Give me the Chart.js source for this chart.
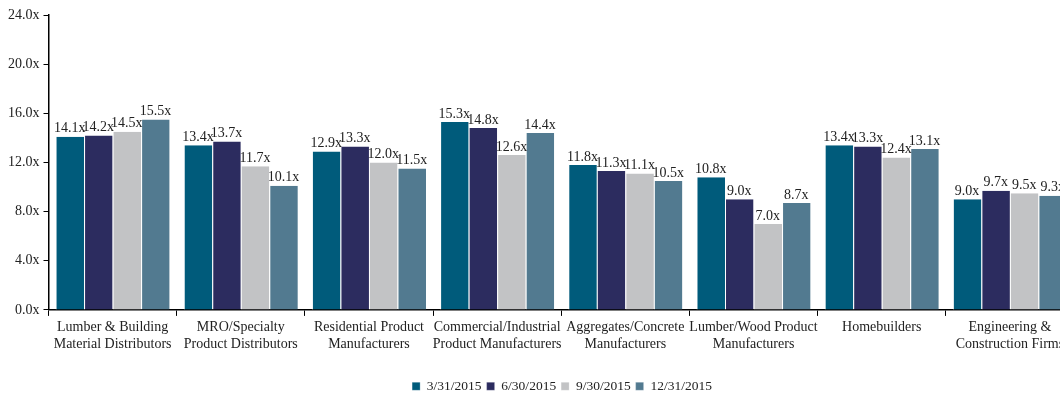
<!DOCTYPE html>
<html>
<head>
<meta charset="utf-8">
<script src="https://cdn.jsdelivr.net/npm/chart.js@4"></script>
<style>
  html, body { margin: 0; padding: 0; background: #fff; overflow: hidden; }
  #wrap { width: 1078px; height: 394px; position: relative; }
</style>
</head>
<body>
<div id="wrap"><canvas id="multiplesChart"></canvas></div>
<script>
// categories (two-line tick labels)
const categories = [
  ['Lumber & Building', 'Material Distributors'],
  ['MRO/Specialty', 'Product Distributors'],
  ['Residential Product', 'Manufacturers'],
  ['Commercial/Industrial', 'Product Manufacturers'],
  ['Aggregates/Concrete', 'Manufacturers'],
  ['Lumber/Wood Product', 'Manufacturers'],
  ['Homebuilders'],
  ['Engineering &', 'Construction Firms']
];

// series values (EV/EBITDA multiples)
const q1 = [14.1, 13.4, 12.9, 15.3, 11.8, 10.8, 13.4, 9.0];  // 3/31/2015
const q2 = [14.2, 13.7, 13.3, 14.8, 11.3, 9.0, 13.3, 9.7];   // 6/30/2015
const q3 = [14.5, 11.7, 12.0, 12.6, 11.1, 7.0, 12.4, 9.5];   // 9/30/2015
const q4 = [15.5, 10.1, 11.5, 14.4, 10.5, 8.7, 13.1, 9.3];   // 12/31/2015

const seriesNames = ['3/31/2015', '6/30/2015', '9/30/2015', '12/31/2015'];
const seriesColors = ['#005b7b', '#2c2c5f', '#c2c3c5', '#527a90'];

const serif = "'Liberation Serif', 'DejaVu Serif', serif";

// simple value labels above each bar
const barLabels = {
  id: 'barLabels',
  afterDatasetsDraw(chart) {
    const ctx = chart.ctx;
    ctx.save();
    ctx.font = '14px ' + serif;
    ctx.fillStyle = '#222';
    ctx.textAlign = 'center';
    ctx.textBaseline = 'bottom';
    chart.data.datasets.forEach((ds, i) => {
      const meta = chart.getDatasetMeta(i);
      meta.data.forEach((bar, j) => {
        ctx.fillText(ds.data[j].toFixed(1) + 'x', bar.x, bar.y - 1);
      });
    });
    ctx.restore();
  }
};

// legend is centred under the whole (partly cut off) plot, nudge it right
const legendShift = {
  id: 'legendShift',
  afterLayout(chart) {
    if (chart.legend) {
      chart.legend.left += 23;
      chart.legend.right += 23;
    }
  }
};

const datasets = [q1, q2, q3, q4].map((vals, i) => ({
  label: seriesNames[i],
  data: vals,
  backgroundColor: seriesColors[i],
  borderColor: '#ffffff',
  borderWidth: { left: 1, right: 0, top: 0, bottom: 0 },
  borderSkipped: false,
  barPercentage: 1.0,
  categoryPercentage: 0.89
}));

const ctx = document.getElementById('multiplesChart').getContext('2d');
const multiplesChart = new Chart(ctx, {
  type: 'bar',
  data: { labels: categories, datasets: datasets },
  options: {
    responsive: true,
    maintainAspectRatio: false,
    animation: false,
    layout: { padding: { top: 15, right: 4, left: 4, bottom: -9 } },
    plugins: {
      tooltip: { enabled: false },
      legend: {
        position: 'bottom',
        labels: {
          font: { family: serif, size: 13.5 },
          color: '#222',
          boxWidth: 8,
          boxHeight: 8,
          padding: 5
        }
      }
    },
    scales: {
      x: {
        grid: { display: true, offset: true, drawOnChartArea: false, tickLength: 6, color: '#000' },
        border: { color: '#000', width: 1.5 },
        ticks: { font: { family: serif, size: 14 }, color: '#222', maxRotation: 0, autoSkip: false, padding: 3 },
        afterFit: scale => { scale.height += 19; }
      },
      y: {
        min: 0,
        max: 24,
        grid: { display: true, drawOnChartArea: false, tickLength: 5, color: '#000' },
        border: { color: '#000', width: 1.5 },
        ticks: {
          stepSize: 4,
          font: { family: serif, size: 14 },
          color: '#222',
          padding: 4,
          callback: v => v.toFixed(1) + 'x'
        }
      }
    }
  },
  plugins: [barLabels, legendShift]
});
</script>
</body>
</html>
